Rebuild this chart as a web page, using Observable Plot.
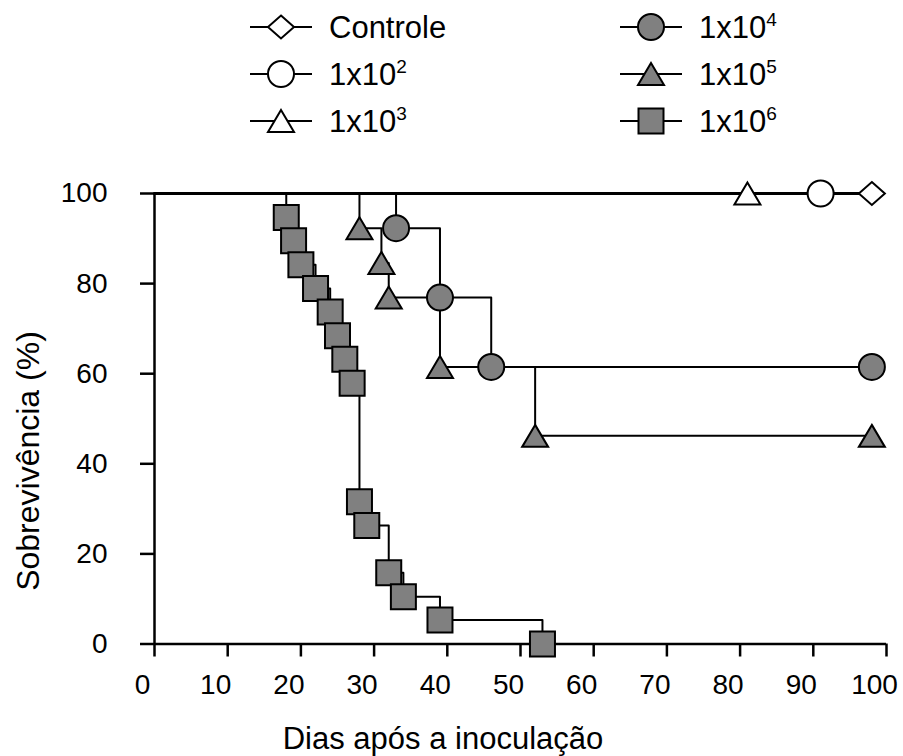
<!DOCTYPE html>
<html><head><meta charset="utf-8">
<script src="https://cdn.jsdelivr.net/npm/d3@7"></script>
<script src="https://cdn.jsdelivr.net/npm/@observablehq/plot@0.6"></script>
<style>
body{margin:0;background:#fff;font-family:"Liberation Sans",Arial,sans-serif;}
#wrap{position:relative;width:903px;height:756px;}
#legend{display:block;}
</style></head><body>
<div id="wrap"><svg id="legend" width="903" height="150"></svg><div id="chart"></div></div>
<script>
// ---- data ----
const seriesNames = ["Controle", "1x10^2", "1x10^3", "1x10^4", "1x10^5", "1x10^6"];
const diasControle = [0, 98];
const sobrevControle = [100, 100];
const dias1e2 = [0, 91];
const sobrev1e2 = [100, 100];
const dias1e3 = [0, 81];
const sobrev1e3 = [100, 100];
const dias1e4 = [0, 33, 39, 46, 98];
const sobrev1e4 = [100, 92.3, 76.9, 61.5, 61.5];
const dias1e5 = [0, 28, 31, 32, 39, 52, 98];
const sobrev1e5 = [100, 92.3, 84.6, 76.9, 61.5, 46.2, 46.2];
const dias1e6 = [0, 18, 19, 20, 22, 24, 25, 26, 27, 28, 29, 32, 34, 39, 53];
const sobrev1e6 = [100, 94.7, 89.5, 84.2, 78.9, 73.7, 68.4, 63.2, 57.9, 31.6, 26.3, 15.8, 10.5, 5.3, 0];
const xTicks = [0, 10, 20, 30, 40, 50, 60, 70, 80, 90, 100];
const yTicks = [0, 20, 40, 60, 80, 100];
const xTitle = "Dias após a inoculação";
const yTitle = "Sobrevivência (%)";

// ---- styles ----
const GRAY = "#808080";
const symDiamond = {draw(c){c.moveTo(0,-11.5);c.lineTo(13,0);c.lineTo(0,11.5);c.lineTo(-13,0);c.closePath();}};
const symCircle = {draw(c){c.moveTo(13,0);c.arc(0,0,13,0,2*Math.PI);c.closePath();}};
const symTriangle = {draw(c){c.moveTo(0,-11);c.lineTo(13,11);c.lineTo(-13,11);c.closePath();}};
const symSquare = {draw(c){c.rect(-12.5,-12.5,25,25);}};
const styles = [
  {sym: symDiamond, fill: "white"},
  {sym: symCircle, fill: "white"},
  {sym: symTriangle, fill: "white"},
  {sym: symCircle, fill: GRAY},
  {sym: symTriangle, fill: GRAY},
  {sym: symSquare, fill: GRAY}
];
const diasAll = [diasControle, dias1e2, dias1e3, dias1e4, dias1e5, dias1e6];
const sobrevAll = [sobrevControle, sobrev1e2, sobrev1e3, sobrev1e4, sobrev1e5, sobrev1e6];
const series = seriesNames.map((name, i) => ({
  name, style: styles[i],
  pts: diasAll[i].map((d, j) => ({dias: d, sobrev: sobrevAll[i][j], serie: name}))
}));

const FONT = '"Liberation Sans", Arial, sans-serif';
const lineMarks = series.map(s => Plot.line(s.pts, {x: "dias", y: "sobrev", curve: "step-after", stroke: "black", strokeWidth: s.name === "Controle" ? 3 : 2}));
const dotMarks = series.map(s => Plot.dot(s.pts.slice(1), {x: "dias", y: "sobrev", r: 13, symbol: s.style.sym, fill: s.style.fill, stroke: "black", strokeWidth: 2}));

const plot = Plot.plot({
  width: 903, height: 606,
  marginLeft: 154, marginRight: 17, marginTop: 43, marginBottom: 112.5,
  x: {domain: [0, 100]},
  y: {domain: [0, 100]},
  style: {fontFamily: FONT, background: "white", color: "black", overflow: "visible"},
  marks: [
    Plot.axisX({ticks: xTicks, tickSize: 13, strokeWidth: 2.5, tickFormat: () => "", label: null}),
    Plot.axisX({ticks: xTicks, tickSize: 0, tickPadding: 30, dx: -12, fontSize: 28, label: null}),
    Plot.axisY({ticks: yTicks, tickSize: 14, strokeWidth: 2.5, tickFormat: () => "", label: null}),
    Plot.axisY({ticks: yTicks, tickSize: 0, tickPadding: 47, fontSize: 28, label: null}),
    Plot.ruleY([0], {strokeWidth: 2.5}),
    Plot.ruleX([0], {strokeWidth: 2.5}),
    ...lineMarks,
    ...dotMarks
  ]
});
document.getElementById("chart").appendChild(plot);

const svg = d3.select(plot);
svg.append("text").attr("x", 443).attr("y", 588).attr("text-anchor", "middle").attr("dominant-baseline", "central")
  .attr("font-size", 31).attr("font-family", FONT).attr("fill", "black").text(xTitle);
svg.append("text").attr("transform", "translate(28,311) rotate(-90)").attr("text-anchor", "middle").attr("dominant-baseline", "central")
  .attr("font-size", 32).attr("font-family", FONT).attr("fill", "black").text(yTitle);

// ---- legend ----
const leg = d3.select("#legend");
const rowsY = [27, 74, 121];
series.forEach((s, i) => {
  const col = i < 3 ? 0 : 1, row = i % 3;
  const x0 = col === 0 ? 250 : 620, y = rowsY[row];
  const g = leg.append("g");
  g.append("line").attr("x1", x0).attr("x2", x0 + 62).attr("y1", y).attr("y2", y).attr("stroke", "black").attr("stroke-width", 2);
  g.append("path").attr("d", d3.symbol(s.style.sym)()).attr("transform", `translate(${x0 + 31},${y})`)
    .attr("fill", s.style.fill).attr("stroke", "black").attr("stroke-width", 2);
  const t = g.append("text").attr("x", x0 + 79).attr("y", y + 11).attr("font-size", 31).attr("font-family", FONT).attr("fill", "black");
  const parts = s.name.split("^");
  t.append("tspan").text(parts[0]);
  if (parts[1]) t.append("tspan").attr("dy", -12).attr("font-size", 19).text(parts[1]);
});
</script>
</body></html>
